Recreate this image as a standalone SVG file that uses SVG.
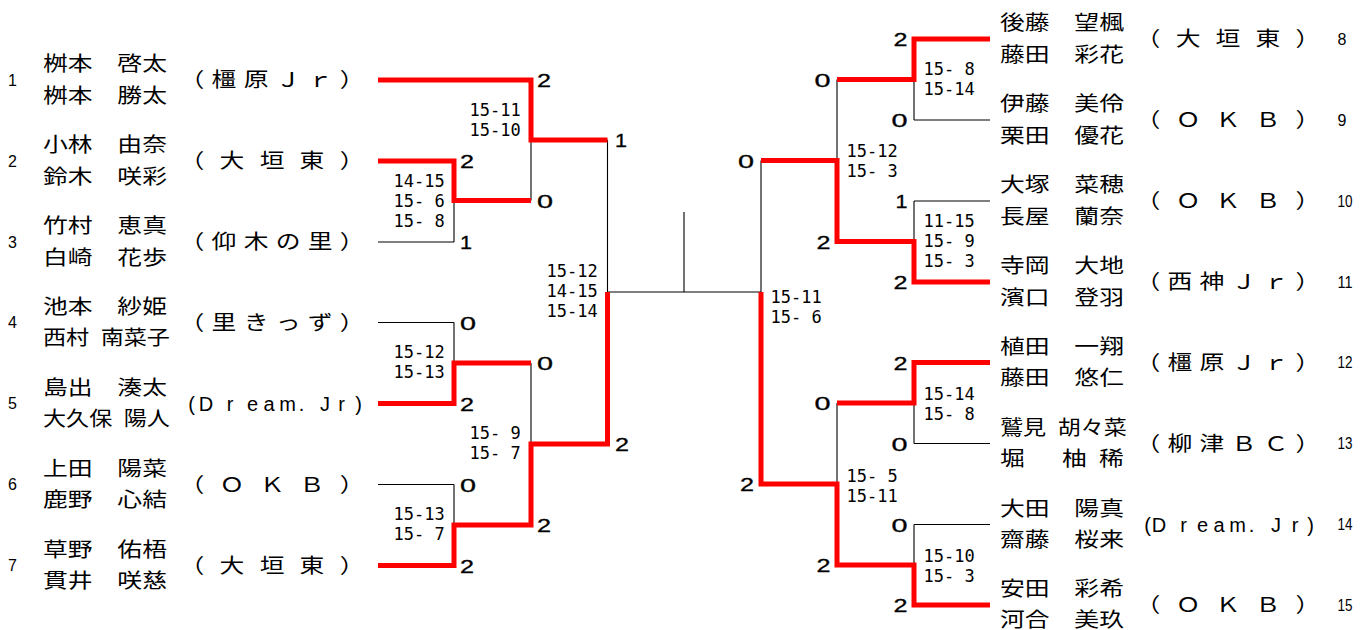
<svg xmlns="http://www.w3.org/2000/svg" width="1367" height="630" viewBox="0 0 1367 630">
<style>
.ln{stroke:#000;stroke-width:1.1;fill:none}
.win{stroke:#ff0000;stroke-width:5;fill:none;stroke-linejoin:miter;stroke-linecap:butt}
.nm{font-family:"Noto Sans CJK JP","Noto Sans CJK SC",sans-serif;font-size:20px;fill:#000}
.hs{word-spacing:5.5px}
.lb{font-family:"Noto Sans CJK JP","Noto Sans CJK SC",sans-serif;font-size:20px;fill:#000;text-anchor:middle}
.dr{font-family:"Liberation Sans",Arial,sans-serif;font-size:20px;fill:#000;text-anchor:middle}
.no{font-family:"Liberation Sans",Arial,sans-serif;font-size:16px;fill:#000}
.sc{font-family:"Liberation Sans",Arial,sans-serif;font-size:18px;fill:#000;stroke:#000;stroke-width:0.3}
.scr{font-family:"Liberation Sans",Arial,sans-serif;font-size:18px;fill:#000;stroke:#000;stroke-width:0.3;text-anchor:end}
.st{font-family:"DejaVu Sans Mono","Liberation Mono",monospace;font-size:17px;fill:#000}
</style>
<rect width="1367" height="630" fill="#fff"/>

<g id="connectors">
  <path class="ln" d="M378,242H454 M378,322.5H454 M378,484.5H454 M454,161V242 M454,322.5V403.5 M454,484.5V565.5 M531,80V200.5 M531,363V525 M607.5,140V444 M607.5,292H761 M684,212V292"/>
  <path class="ln" d="M914,120H990 M914,201H990 M914,443.5H990 M914,524.5H990 M914,39V120 M914,201V282 M914,362.5V443.5 M914,524.5V605 M837,79.5V241.5 M837,403V565 M761,160.5V484"/>
  <path class="win" d="M378,80H531V140H607.5"/>
  <path class="win" d="M378,161H454V200.5H531"/>
  <path class="win" d="M378,403.5H454V363H531"/>
  <path class="win" d="M378,565.5H454V525H531V444H607.5V292"/>
  <path class="win" d="M990,39H914V79.5H837"/>
  <path class="win" d="M990,282H914V241.5H837V160.5H761"/>
  <path class="win" d="M990,362.5H914V403H837"/>
  <path class="win" d="M990,605H914V565H837V484H761V292"/>
</g>

<g id="scores">
  <text class="sc" x="537" y="87" textLength="14" lengthAdjust="spacingAndGlyphs">2</text>
  <text class="sc" x="615" y="147" textLength="12" lengthAdjust="spacingAndGlyphs">1</text>
  <text class="sc" x="460" y="168" textLength="14" lengthAdjust="spacingAndGlyphs">2</text>
  <text class="sc" x="537" y="207.5" textLength="16" lengthAdjust="spacingAndGlyphs">0</text>
  <text class="sc" x="460" y="249" textLength="12" lengthAdjust="spacingAndGlyphs">1</text>
  <text class="sc" x="460" y="329.5" textLength="16" lengthAdjust="spacingAndGlyphs">0</text>
  <text class="sc" x="537" y="370" textLength="16" lengthAdjust="spacingAndGlyphs">0</text>
  <text class="sc" x="460" y="410.5" textLength="14" lengthAdjust="spacingAndGlyphs">2</text>
  <text class="sc" x="615" y="451" textLength="14" lengthAdjust="spacingAndGlyphs">2</text>
  <text class="sc" x="460" y="491.5" textLength="16" lengthAdjust="spacingAndGlyphs">0</text>
  <text class="sc" x="537" y="532" textLength="14" lengthAdjust="spacingAndGlyphs">2</text>
  <text class="sc" x="460" y="572.5" textLength="14" lengthAdjust="spacingAndGlyphs">2</text>

  <text class="scr" x="907.5" y="46" textLength="14" lengthAdjust="spacingAndGlyphs">2</text>
  <text class="scr" x="830.5" y="86.5" textLength="16" lengthAdjust="spacingAndGlyphs">0</text>
  <text class="scr" x="907.5" y="127" textLength="16" lengthAdjust="spacingAndGlyphs">0</text>
  <text class="scr" x="754" y="167.5" textLength="16" lengthAdjust="spacingAndGlyphs">0</text>
  <text class="scr" x="907.5" y="208" textLength="12" lengthAdjust="spacingAndGlyphs">1</text>
  <text class="scr" x="830.5" y="248.5" textLength="14" lengthAdjust="spacingAndGlyphs">2</text>
  <text class="scr" x="907.5" y="289" textLength="14" lengthAdjust="spacingAndGlyphs">2</text>
  <text class="scr" x="907.5" y="369.5" textLength="14" lengthAdjust="spacingAndGlyphs">2</text>
  <text class="scr" x="830.5" y="410" textLength="16" lengthAdjust="spacingAndGlyphs">0</text>
  <text class="scr" x="907.5" y="450.5" textLength="16" lengthAdjust="spacingAndGlyphs">0</text>
  <text class="scr" x="754" y="491" textLength="14" lengthAdjust="spacingAndGlyphs">2</text>
  <text class="scr" x="907.5" y="531.5" textLength="16" lengthAdjust="spacingAndGlyphs">0</text>
  <text class="scr" x="830.5" y="572" textLength="14" lengthAdjust="spacingAndGlyphs">2</text>
  <text class="scr" x="907.5" y="612" textLength="14" lengthAdjust="spacingAndGlyphs">2</text>

  <g class="st" xml:space="preserve">
    <text x="393.5" y="187">14-15</text><text x="393.5" y="207">15- 6</text><text x="393.5" y="227">15- 8</text>
    <text x="469.5" y="116">15-11</text><text x="469.5" y="136">15-10</text>
    <text x="546.5" y="277">15-12</text><text x="546.5" y="297">14-15</text><text x="546.5" y="317">15-14</text>
    <text x="393.5" y="358">15-12</text><text x="393.5" y="378">15-13</text>
    <text x="469.5" y="439">15- 9</text><text x="469.5" y="459">15- 7</text>
    <text x="393.5" y="520">15-13</text><text x="393.5" y="540">15- 7</text>
    <text x="923.5" y="75">15- 8</text><text x="923.5" y="95">15-14</text>
    <text x="846.5" y="157">15-12</text><text x="846.5" y="177">15- 3</text>
    <text x="923.5" y="227">11-15</text><text x="923.5" y="247">15- 9</text><text x="923.5" y="267">15- 3</text>
    <text x="770.5" y="303">15-11</text><text x="770.5" y="323">15- 6</text>
    <text x="923.5" y="400">15-14</text><text x="923.5" y="420">15- 8</text>
    <text x="846.5" y="482">15- 5</text><text x="846.5" y="502">15-11</text>
    <text x="923.5" y="562">15-10</text><text x="923.5" y="582">15- 3</text>
  </g>
</g>

<g id="team1">
  <text class="no" x="8" y="85.5">1</text>
  <text class="nm" transform="scale(1.24 1)" x="34.68" y="71.5">桝本　啓太</text>
  <text class="nm" transform="scale(1.24 1)" x="34.68" y="103">桝本　勝太</text>
  <text class="lb" transform="scale(1.24 1)" x="154.8 180.6 206.5 232.3 258.1 283.9" y="87.5">（橿原Ｊｒ）</text>
</g>
<g id="team2">
  <text class="no" x="8" y="166.5">2</text>
  <text class="nm" transform="scale(1.24 1)" x="34.68" y="152.5">小林　由奈</text>
  <text class="nm" transform="scale(1.24 1)" x="34.68" y="184">鈴木　咲彩</text>
  <text class="lb" transform="scale(1.24 1)" x="154.8 187.1 219.4 251.6 283.9" y="168.5">（大垣東）</text>
</g>
<g id="team3">
  <text class="no" x="8" y="247.5">3</text>
  <text class="nm" transform="scale(1.24 1)" x="34.68" y="233.5">竹村　恵真</text>
  <text class="nm" transform="scale(1.24 1)" x="34.68" y="265">白崎　花歩</text>
  <text class="lb" transform="scale(1.24 1)" x="154.8 180.6 206.5 232.3 258.1 283.9" y="249.5">（仰木の里）</text>
</g>
<g id="team4">
  <text class="no" x="8" y="328">4</text>
  <text class="nm" transform="scale(1.24 1)" x="34.68" y="314">池本　紗姫</text>
  <text class="nm hs" transform="scale(1.155 1)" x="37.23" y="345.5">西村 南菜子</text>
  <text class="lb" transform="scale(1.24 1)" x="154.8 180.6 206.5 232.3 258.1 283.9" y="330">（里きっず）</text>
</g>
<g id="team5">
  <text class="no" x="8" y="409">5</text>
  <text class="nm" transform="scale(1.24 1)" x="34.68" y="395">島出　湊太</text>
  <text class="nm hs" transform="scale(1.155 1)" x="37.23" y="426.5">大久保 陽人</text>
  <text class="dr" x="191.5 206 230 252.5 269 287.5 301.5 312 325 341.5 358.5" y="411">(Dream. Jr)</text>
</g>
<g id="team6">
  <text class="no" x="8" y="490">6</text>
  <text class="nm" transform="scale(1.24 1)" x="34.68" y="476">上田　陽菜</text>
  <text class="nm" transform="scale(1.24 1)" x="34.68" y="507.5">鹿野　心結</text>
  <text class="lb" transform="scale(1.24 1)" x="154.8 187.1 219.4 251.6 283.9" y="492">（ＯＫＢ）</text>
</g>
<g id="team7">
  <text class="no" x="8" y="571">7</text>
  <text class="nm" transform="scale(1.24 1)" x="34.68" y="557">草野　佑梧</text>
  <text class="nm" transform="scale(1.24 1)" x="34.68" y="588.5">貫井　咲慈</text>
  <text class="lb" transform="scale(1.24 1)" x="154.8 187.1 219.4 251.6 283.9" y="573">（大垣東）</text>
</g>

<g id="team8">
  <text class="nm" transform="scale(1.24 1)" x="806.45" y="30.5">後藤　望楓</text>
  <text class="nm" transform="scale(1.24 1)" x="806.45" y="62">藤田　彩花</text>
  <text class="lb" transform="scale(1.24 1)" x="925.8 958.1 990.3 1022.6 1054.8" y="46.5">（大垣東）</text>
  <text class="no" x="1337.5" y="44.5">8</text>
</g>
<g id="team9">
  <text class="nm" transform="scale(1.24 1)" x="806.45" y="111.5">伊藤　美伶</text>
  <text class="nm" transform="scale(1.24 1)" x="806.45" y="143">栗田　優花</text>
  <text class="lb" transform="scale(1.24 1)" x="925.8 958.1 990.3 1022.6 1054.8" y="127.5">（ＯＫＢ）</text>
  <text class="no" x="1337.5" y="125.5">9</text>
</g>
<g id="team10">
  <text class="nm" transform="scale(1.24 1)" x="806.45" y="192.5">大塚　菜穂</text>
  <text class="nm" transform="scale(1.24 1)" x="806.45" y="224">長屋　蘭奈</text>
  <text class="lb" transform="scale(1.24 1)" x="925.8 958.1 990.3 1022.6 1054.8" y="208.5">（ＯＫＢ）</text>
  <text class="no" x="1337.5" y="206.5" textLength="15" lengthAdjust="spacingAndGlyphs">10</text>
</g>
<g id="team11">
  <text class="nm" transform="scale(1.24 1)" x="806.45" y="273.5">寺岡　大地</text>
  <text class="nm" transform="scale(1.24 1)" x="806.45" y="305">濱口　登羽</text>
  <text class="lb" transform="scale(1.24 1)" x="925.8 951.6 977.4 1003.2 1029 1054.8" y="289.5">（西神Ｊｒ）</text>
  <text class="no" x="1337.5" y="287.5" textLength="15" lengthAdjust="spacingAndGlyphs">11</text>
</g>
<g id="team12">
  <text class="nm" transform="scale(1.24 1)" x="806.45" y="354">植田　一翔</text>
  <text class="nm" transform="scale(1.24 1)" x="806.45" y="385.5">藤田　悠仁</text>
  <text class="lb" transform="scale(1.24 1)" x="925.8 951.6 977.4 1003.2 1029 1054.8" y="370">（橿原Ｊｒ）</text>
  <text class="no" x="1337.5" y="368" textLength="15" lengthAdjust="spacingAndGlyphs">12</text>
</g>
<g id="team13">
  <text class="nm hs" transform="scale(1.155 1)" x="865.8" y="435">鷲見 胡々菜</text>
  <text class="nm hs" transform="scale(1.24 1)" x="806.45" y="466.5">堀　 柚 稀</text>
  <text class="lb" transform="scale(1.24 1)" x="925.8 951.6 977.4 1003.2 1029 1054.8" y="451">（柳津ＢＣ）</text>
  <text class="no" x="1337.5" y="449" textLength="15" lengthAdjust="spacingAndGlyphs">13</text>
</g>
<g id="team14">
  <text class="nm" transform="scale(1.24 1)" x="806.45" y="516">大田　陽真</text>
  <text class="nm" transform="scale(1.24 1)" x="806.45" y="547.5">齋藤　桜来</text>
  <text class="dr" x="1147.5 1159 1183.5 1202.5 1219 1237.5 1251.5 1262 1276 1295 1310.5" y="532">(Dream. Jr)</text>
  <text class="no" x="1337.5" y="530" textLength="15" lengthAdjust="spacingAndGlyphs">14</text>
</g>
<g id="team15">
  <text class="nm" transform="scale(1.24 1)" x="806.45" y="596.5">安田　彩希</text>
  <text class="nm" transform="scale(1.24 1)" x="806.45" y="627">河合　美玖</text>
  <text class="lb" transform="scale(1.24 1)" x="925.8 958.1 990.3 1022.6 1054.8" y="612.5">（ＯＫＢ）</text>
  <text class="no" x="1337.5" y="610.5" textLength="15" lengthAdjust="spacingAndGlyphs">15</text>
</g>
</svg>
